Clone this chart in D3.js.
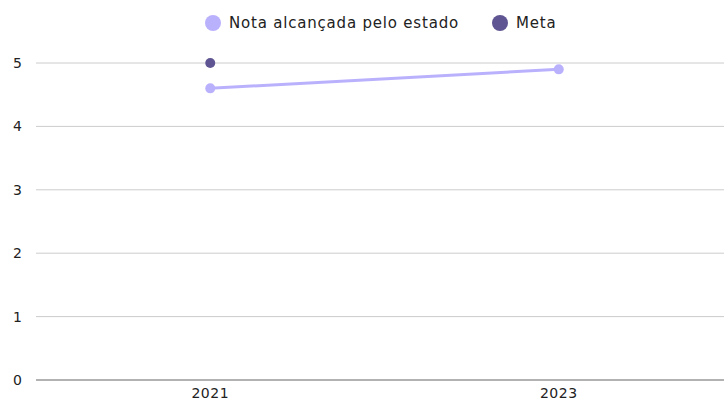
<!DOCTYPE html>
<html lang="en">
<head>
  <meta charset="UTF-8" />
  <title>Nota alcançada pelo estado</title>
  <script src="https://d3js.org/d3.v7.min.js"></script>
  <style>
    body { margin: 0; background: #fff; font-family: "DejaVu Sans", sans-serif; }
    svg { display: block; }
    text { fill: #222; }
  </style>
</head>
<body>
  <svg id="chart"></svg>
  <script>
    const years = ["2021", "2023"];
    const notaValues = [4.6, 4.9];
    const metaValues = [5, null];
    const yTicks = [0, 1, 2, 3, 4, 5];

    const width = 724, height = 403;
    const margin = { top: 63, right: 0, bottom: 23, left: 36 };
    const colNota = "#bab1fd", colMeta = "#5f5592";

    const svg = d3.select("#chart").attr("width", width).attr("height", height);

    const x = d3.scalePoint().domain(years).range([margin.left, 733]).padding(0.5);
    const y = d3.scaleLinear().domain([0, 5]).range([height - margin.bottom, margin.top]);

    // grid
    svg.append("g")
      .selectAll("line")
      .data(yTicks)
      .join("line")
      .attr("x1", margin.left).attr("x2", width)
      .attr("y1", d => y(d)).attr("y2", d => y(d))
      .attr("stroke", d => d === 0 ? "#999" : "#ccc")
      .attr("stroke-width", d => d === 0 ? 1.5 : 1);

    svg.append("g")
      .selectAll("text")
      .data(yTicks)
      .join("text")
      .attr("x", 22).attr("y", d => y(d))
      .attr("dy", "0.35em")
      .attr("text-anchor", "end")
      .attr("font-size", 14)
      .text(d => d);

    svg.append("g")
      .selectAll("text")
      .data(years)
      .join("text")
      .attr("x", d => x(d)).attr("y", 398)
      .attr("text-anchor", "middle")
      .attr("font-size", 14)
      .attr("letter-spacing", 0.5)
      .text(d => d);

    const nota = years.map((yr, i) => ({ yr, v: notaValues[i] }));
    svg.append("path")
      .datum(nota)
      .attr("fill", "none")
      .attr("stroke", colNota)
      .attr("stroke-width", 3)
      .attr("d", d3.line().x(d => x(d.yr)).y(d => y(d.v)));
    svg.append("g")
      .selectAll("circle")
      .data(nota)
      .join("circle")
      .attr("cx", d => x(d.yr)).attr("cy", d => y(d.v))
      .attr("r", 5).attr("fill", colNota);

    const meta = years.map((yr, i) => ({ yr, v: metaValues[i] })).filter(d => d.v != null);
    svg.append("g")
      .selectAll("circle")
      .data(meta)
      .join("circle")
      .attr("cx", d => x(d.yr)).attr("cy", d => y(d.v))
      .attr("r", 5).attr("fill", colMeta);

    // legend
    const legend = [
      { label: "Nota alcançada pelo estado", color: colNota, x: 213 },
      { label: "Meta", color: colMeta, x: 500 }
    ];
    const lg = svg.append("g").selectAll("g").data(legend).join("g")
      .attr("transform", d => `translate(${d.x},23)`);
    lg.append("circle").attr("r", 8).attr("fill", d => d.color);
    lg.append("text").attr("x", 16).attr("dy", "0.35em")
      .attr("font-size", 15).attr("letter-spacing", 0.8).text(d => d.label);
  </script>
</body>
</html>
